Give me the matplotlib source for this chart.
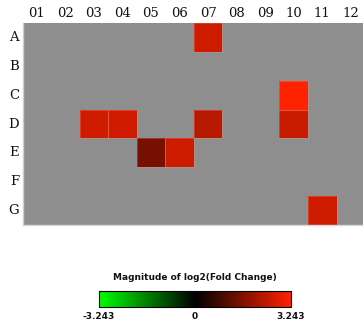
import numpy as np
import matplotlib
matplotlib.use("Agg")
import matplotlib.pyplot as plt
from matplotlib.colors import LinearSegmentedColormap, Normalize
from matplotlib.patches import Rectangle
import matplotlib.colorbar as mcolorbar

rows = ["A", "B", "C", "D", "E", "F", "G"]
cols = ["01", "02", "03", "04", "05", "06", "07", "08", "09", "10", "11", "12"]
# (row, col, log2 fold change)
cell_rows = ["A", "C", "D", "D", "D", "D", "E", "E", "G"]
cell_cols = ["07", "10", "03", "04", "07", "10", "05", "06", "11"]
cell_vals = [2.60, 3.243, 2.63, 2.63, 2.33, 2.55, 1.50, 2.60, 2.60]
vmin, vmax = -3.243, 3.243
cbar_ticks = [-3.243, 0, 3.243]
cbar_labels = ["-3.243", "0", "3.243"]
cbar_title = "Magnitude of log2(Fold Change)"

data = np.full((len(rows), len(cols)), np.nan)
for r, c, v in zip(cell_rows, cell_cols, cell_vals):
    data[rows.index(r), cols.index(c)] = v
mdata = np.ma.masked_invalid(data)

cmap = LinearSegmentedColormap.from_list("gbr", ["#00ff00", "#000000", "#ff2200"])
norm = Normalize(vmin=vmin, vmax=vmax)

W, H = 363, 327
fig = plt.figure(figsize=(W / 100, H / 100), dpi=100)
fig.patch.set_facecolor("white")

ax = fig.add_axes([22.5 / W, 1 - 225 / H, 342.6 / W, 202 / H])
ax.set_facecolor("#8e8e8e")
ax.pcolormesh(np.arange(len(cols) + 1), np.arange(len(rows) + 1), mdata,
              cmap=cmap, norm=norm, edgecolors="none")
for r, c in zip(cell_rows, cell_cols):
    ax.add_patch(Rectangle((cols.index(c), rows.index(r)), 1, 1, fill=False,
                           edgecolor=(1, 0.55, 0.5, 0.35), linewidth=0.6))
ax.set_xlim(0, len(cols))
ax.set_ylim(len(rows), 0)
ax.set_xticks([])
ax.set_yticks([])
for s in ax.spines.values():
    s.set_visible(False)
ax.spines["left"].set_visible(True)
ax.spines["left"].set_color("#cfcfcf")
ax.spines["left"].set_linewidth(1.0)
ax.spines["bottom"].set_visible(True)
ax.spines["bottom"].set_color("#d8d8d8")
ax.spines["bottom"].set_linewidth(1.0)

serif = ["DejaVu Serif"]
for i, c in enumerate(cols):
    ax.text(i + 0.5, -0.12, c, ha="center", va="bottom", fontsize=9.5,
            family=serif, color="#111111")
for j, r in enumerate(rows):
    ax.text(-0.12, j + 0.5, r, ha="right", va="center", fontsize=9.5,
            family=serif, color="#111111")

cax = fig.add_axes([99 / W, 1 - 307 / H, 192 / W, 16 / H])
cb = mcolorbar.ColorbarBase(cax, cmap=cmap, norm=norm, orientation="horizontal")
cb.outline.set_edgecolor("black")
cb.outline.set_linewidth(0.8)
cb.set_ticks([])
for t, lab in zip(cbar_ticks, cbar_labels):
    cax.text(t, -0.3, lab, ha="center", va="top", fontsize=6.5,
             fontweight="bold", transform=cax.transData, color="#111111")
fig.text(195 / W, 1 - 277 / H, cbar_title, ha="center", va="center",
         fontsize=6.5, fontweight="bold", color="#111111")

fig.savefig("out.png", dpi=100)
